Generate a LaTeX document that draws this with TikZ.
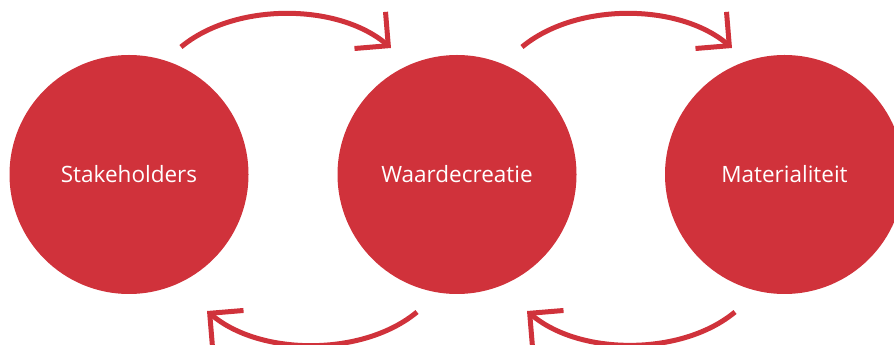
\documentclass[tikz,border=0pt]{standalone}
\usepackage{fontspec}
\setmainfont{Open Sans}
\usetikzlibrary{arrows.meta}
\definecolor{kleurrood}{HTML}{D0323B}
\tikzset{
  bol/.style={circle, fill=kleurrood, minimum size=239pt, inner sep=0pt,
    text=white, font=\fontsize{22.5}{27}\selectfont},
  pijl/.style={draw=kleurrood, line width=5pt,
    -{Straight Barb[length=24pt, width=48pt]}},
}
\begin{document}
\begin{tikzpicture}[x=1pt, y=1pt]
    % 画布
    \useasboundingbox (0,0) rectangle (894,345);
    \clip (0,0) rectangle (894,345);

    % 三个圆
    \node[bol] (stake) at (129,170.5) {Stakeholders};
    \node[bol] (waarde) at (457,170.5) {Waardecreatie};
    \node[bol] (mat) at (784.5,170.5) {Materialiteit};

    % 箭头端点
    \coordinate (b1) at (181,298);
    \coordinate (e1) at (391,297);
    \coordinate (b2) at (522,298);
    \coordinate (e2) at (732,297);
    \coordinate (b3) at (417,33);
    \coordinate (e3) at (207,34);
    \coordinate (b4) at (735,33);
    \coordinate (e4) at (527,34);

    % 上面的箭头
    \draw[pijl] (b1) to[bend left=40, looseness=0.85] (e1);
    \draw[pijl] (b2) to[bend left=40, looseness=0.85] (e2);

    % 下面的箭头
    \draw[pijl] (b3) to[bend left=40, looseness=0.85] (e3);
    \draw[pijl] (b4) to[bend left=40, looseness=0.85] (e4);

\end{tikzpicture}
\end{document}
